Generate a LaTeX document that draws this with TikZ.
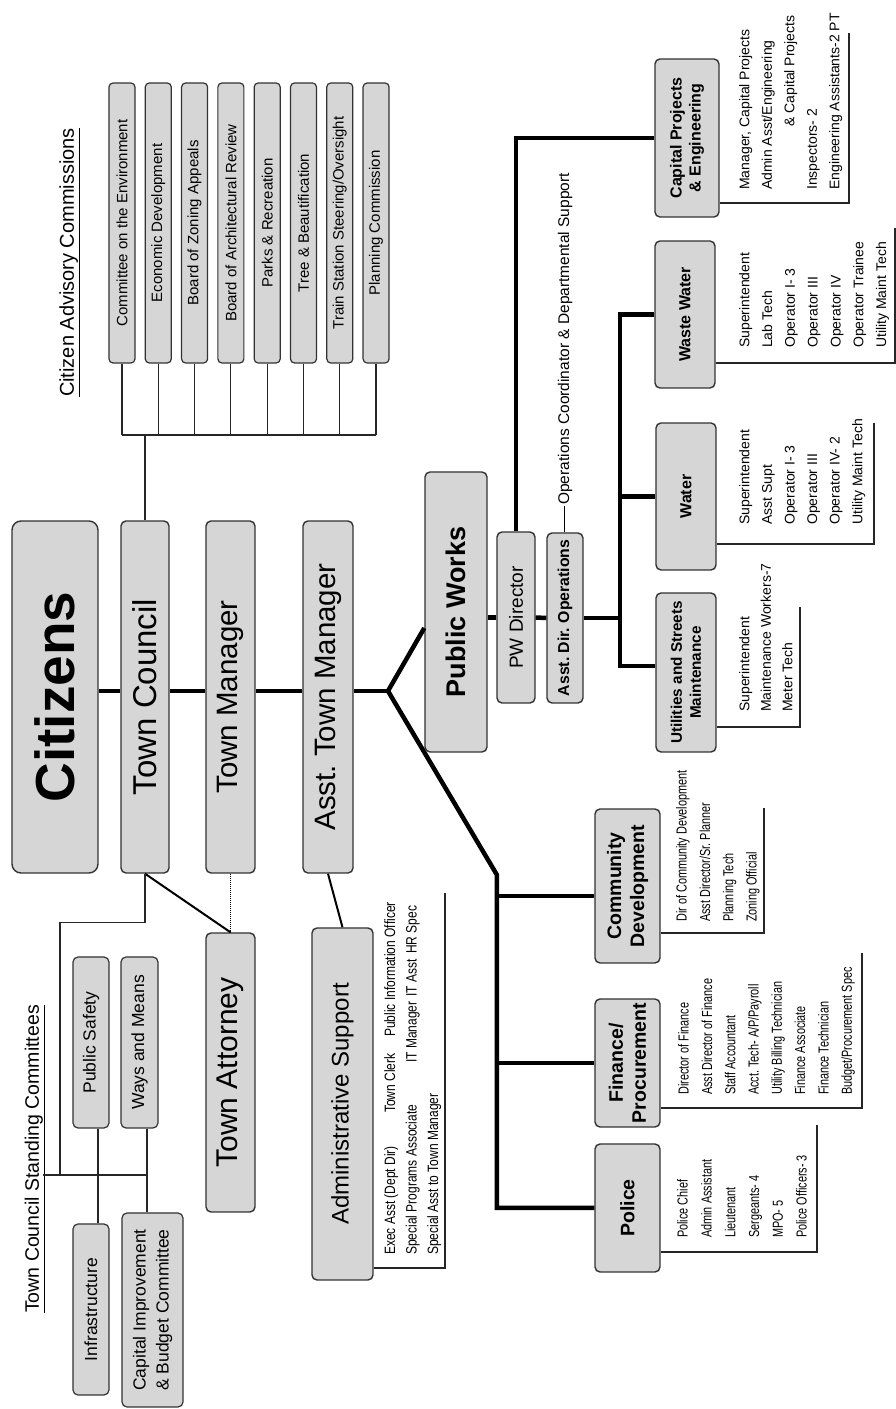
\documentclass[tikz,border=0pt]{standalone}
\usepackage{fontspec}
\setmainfont{Liberation Sans}
\newfontfamily\narrowfont[FakeStretch=0.75]{Liberation Sans}
\newfontfamily\adminfont[FakeStretch=0.8]{Liberation Sans}
\newcommand{\fsize}[2]{\fontsize{#1}{#2}\selectfont}
\frenchspacing

\begin{document}
\begin{tikzpicture}[x=1pt, y=1pt,
    box/.style={draw=black!80, fill=black!16, line width=1.4pt, rounded corners=5pt, inner sep=0pt, align=center},
    trunk/.style={line width=4.5pt},
    link/.style={line width=1.2pt, black!85},
    staff/.style={anchor=north west, align=left, inner sep=0pt}]
  % chart is laid out in landscape and turned a quarter turn
  \begin{scope}[rotate=90, transform shape]
    \fill[white] (0,0) rectangle (1409,896);

    % main line
    \node[box, minimum width=352pt, minimum height=86pt, rounded corners=9pt, font=\bfseries\fsize{55}{60}] (citizens) at (712,841) {Citizens};
    \node[box, minimum width=352pt, minimum height=48pt, font=\fsize{33}{36}] (council) at (712,751) {Town Council};
    \node[box, minimum width=352pt, minimum height=49pt, font=\fsize{29.5}{33}] (manager) at (712,665.5) {Town Manager};
    \node[box, minimum width=352pt, minimum height=50pt, font=\fsize{29.5}{33}] (atm) at (712,568) {Asst. Town Manager};
    \node[box, minimum width=279pt, minimum height=49pt, font=\fsize{30}{33}] (attorney) at (336.5,665.5) {Town Attorney};
    \node[box, minimum width=352pt, minimum height=61pt, font=\fsize{24}{28}] (admin) at (305,553.5) {Administrative Support};

    \coordinate (fork) at (718,508);
    \coordinate (bend) at (534,399);
    \draw[trunk] (citizens.south -| fork) -- (council.north -| fork);
    \draw[trunk] (council.south -| fork) -- (manager.north -| fork);
    \draw[trunk] (manager.south -| fork) -- (atm.north -| fork);
    \draw[trunk] (atm.south -| fork) -- (fork);
    \draw[line width=2pt] (council.west) -- (attorney.east);
    \draw[densely dotted, line width=1pt] (manager.west) -- (attorney.east);
    \draw[line width=2pt] (atm.west) -- (admin.east);

    % citizen advisory commissions
    \node[anchor=base, font=\fsize{20}{24}] (cactitle) at (1146.5,822) {\underline{Citizen Advisory Commissions}};
    \foreach \name [count=\i] in {Committee on the Environment, Economic Development, Board of Zoning Appeals,
        Board of Architectural Review, Parks \& Recreation, Tree \& Beautification,
        Train Station Steering/Oversight, Planning Commission}
      \node[box, line width=1.2pt, rounded corners=4pt, minimum width=280pt, minimum height=26pt, font=\fsize{15}{18}] (com\i) at (1186,{774-36.3*(\i-1)}) {\name};
    \coordinate (cabar) at (974,751);
    \draw[link] (council.east) -- (cabar);
    \draw[link] (com1.west -| cabar) -- (com8.west -| cabar);
    \foreach \i in {1,...,8}
      \draw[link] (com\i.west) -- (com\i.west -| cabar);

    % town council standing committees
    \node[anchor=base, font=\fsize{19.5}{23}] (tcstitle) at (250,857) {\underline{Town Council Standing Committees}};
    \node[box, line width=1.2pt, minimum width=171pt, minimum height=36pt, font=\fsize{17.5}{21}] (safety) at (366.5,805) {Public Safety};
    \node[box, line width=1.2pt, minimum width=171pt, minimum height=37pt, font=\fsize{17.5}{21}] (ways) at (366.5,756.5) {Ways and Means};
    \node[box, line width=1.2pt, minimum width=171pt, minimum height=36pt, font=\fsize{17.5}{21}] (infra) at (99.5,805) {Infrastructure};
    \node[box, line width=1.2pt, minimum width=194pt, minimum height=61pt, font=\fsize{17.5}{23}] (cib) at (99,743.5) {Capital Improvement\\\& Budget Committee};
    \coordinate (scbar) at (234,836);
    \draw[link] (council.west) -- ++(-49,0) |- (scbar);
    \draw[link] (234,853) -- (234,749);
    \draw[link] (safety.west |- 0,798) -- (infra.east |- 0,798);
    \draw[link] (ways.west |- 0,749) -- (cib.east |- 0,749);

    % departments
    \node[box, minimum width=154pt, minimum height=65pt, font=\bfseries\fsize{19.5}{23}] (cd) at (523,268.5) {Community\\Development};
    \node[box, minimum width=128pt, minimum height=65pt, font=\bfseries\fsize{19.5}{23}] (finance) at (346,268.5) {Finance/\\Procurement};
    \node[box, minimum width=128pt, minimum height=65pt, font=\bfseries\fsize{19.5}{23}] (police) at (201,268.5) {Police};
    \draw[trunk] (fork) -- (bend) -- (bend -| police.north) -- (police.north);
    \draw[trunk] (bend -| 513,0) -- (cd.north -| 513,0);
    \draw[trunk] (bend -| finance.north) -- (finance.north);

    \node[staff, font=\narrowfont\fsize{14.5}{23.3}] (cdstaff) at (487,220) {Dir of Community Development\\Asst Director/Sr. Planner\\Planning Tech\\Zoning Official};
    \node[staff, font=\narrowfont\fsize{14.5}{23.3}] (financestaff) at (314,218) {Director of Finance\\Asst Director of Finance\\Staff Accountant\\Acct. Tech- A/P/Payroll\\Utility Billing Technician\\Finance Associate\\Finance Technician\\Budget/Procurement Spec};
    \node[staff, font=\narrowfont\fsize{14.5}{23.8}] (policestaff) at (171,219) {Police Chief\\Admin Assistant\\Lieutenant\\Sergeants- 4\\MPO- 5\\Police Officers- 3};
    \node[staff, font=\adminfont\fsize{15}{21.5}] (adminstaff) at (154,512) {\makebox[142pt][l]{Exec Asst (Dept Dir)}\makebox[76pt][l]{Town Clerk}Public Information Officer\\\makebox[192pt][l]{Special Programs Associate}\makebox[66pt][l]{IT Manager}\makebox[43pt][l]{IT Asst}HR Spec\\Special Asst to Town Manager};
    \draw[link] (cd.south -| 476,0) |- (601,132);
    \draw[link] (finance.south -| 301,0) |- (456,34);
    \draw[link] (police.south -| 157,0) |- (284,79);
    \draw[link] (admin.south -| 141,0) |- (516,451);

    % public works
    \node[box, minimum width=280pt, minimum height=62pt, font=\bfseries\fsize{27}{30}] (pw) at (797,440) {Public Works};
    \node[box, minimum width=171pt, minimum height=38pt, font=\fsize{19}{22}] (pwd) at (791.5,380) {PW Director};
    \node[box, minimum width=170pt, minimum height=36pt, font=\bfseries\fsize{15.8}{19}] (ado) at (791,331) {Asst. Dir. Operations};
    \node[anchor=west, inner sep=1pt, font=\fsize{15.5}{18}] (ops) at (903,331) {Operations Coordinator \& Departmental Support};
    \draw[line width=1pt] (ado.east) -- (ops.west);
    \draw[trunk] (fork) -- (pw.north -| 781,0);

    \node[box, minimum width=159pt, minimum height=60pt, font=\bfseries\fsize{15.3}{19}] (usm) at (736.5,210) {Utilities and Streets\\Maintenance};
    \node[box, minimum width=147pt, minimum height=60pt, font=\bfseries\fsize{16}{19}] (water) at (912.5,210) {Water};
    \node[box, minimum width=147pt, minimum height=60pt, font=\bfseries\fsize{16}{19}] (ww) at (1094.5,211) {Waste Water};
    \node[box, minimum width=158pt, minimum height=64pt, font=\bfseries\fsize{16}{19}] (cpe) at (1271,209) {Capital Projects\\\& Engineering};

    \coordinate (wbar) at (791,276);
    \draw[trunk] (pwd.north |- pw.south) -- (pwd.north);
    \draw[trunk] (pwd.south) -- (ado.north);
    \draw[trunk] (ado.south) -- (wbar);
    \draw[trunk] (usm.north -| 743,0) -- (wbar -| 743,0) -- (wbar -| ww.north) -- (ww.north);
    \draw[trunk] (wbar -| water.north) -- (water.north);
    \draw[trunk] (pwd.east) -| (cpe.north);

    \node[staff, font=\fsize{14}{21.5}] (usmstaff) at (697,157) {Superintendent\\Maintenance Workers-7\\Meter Tech};
    \node[staff, font=\fsize{14}{22.6}] (waterstaff) at (884,157) {Superintendent\\Asst Supt\\Operator I- 3\\Operator III\\Operator IV- 2\\Utility Maint Tech};
    \node[staff, font=\fsize{14}{22.8}] (wwstaff) at (1061,157) {Superintendent\\Lab Tech\\Operator I- 3\\Operator III\\Operator IV\\Operator Trainee\\Utility Maint Tech};
    \node[staff, font=\fsize{14}{22.5}] (cpestaff) at (1219,157) {Manager, Capital Projects\\Admin Asst/Engineering\\\hspace*{63pt}\& Capital Projects\\Inspectors- 2\\Engineering Assistants-2 PT};
    \draw[link] (usm.south -| 682,0) |- (802,96);
    \draw[link] (water.south -| 865,0) |- (986,22);
    \draw[link] (ww.south -| 1046,0) |- (1181,1);
    \draw[link] (cpe.south -| 1206,0) |- (1376,47);
  \end{scope}
\end{tikzpicture}
\end{document}
